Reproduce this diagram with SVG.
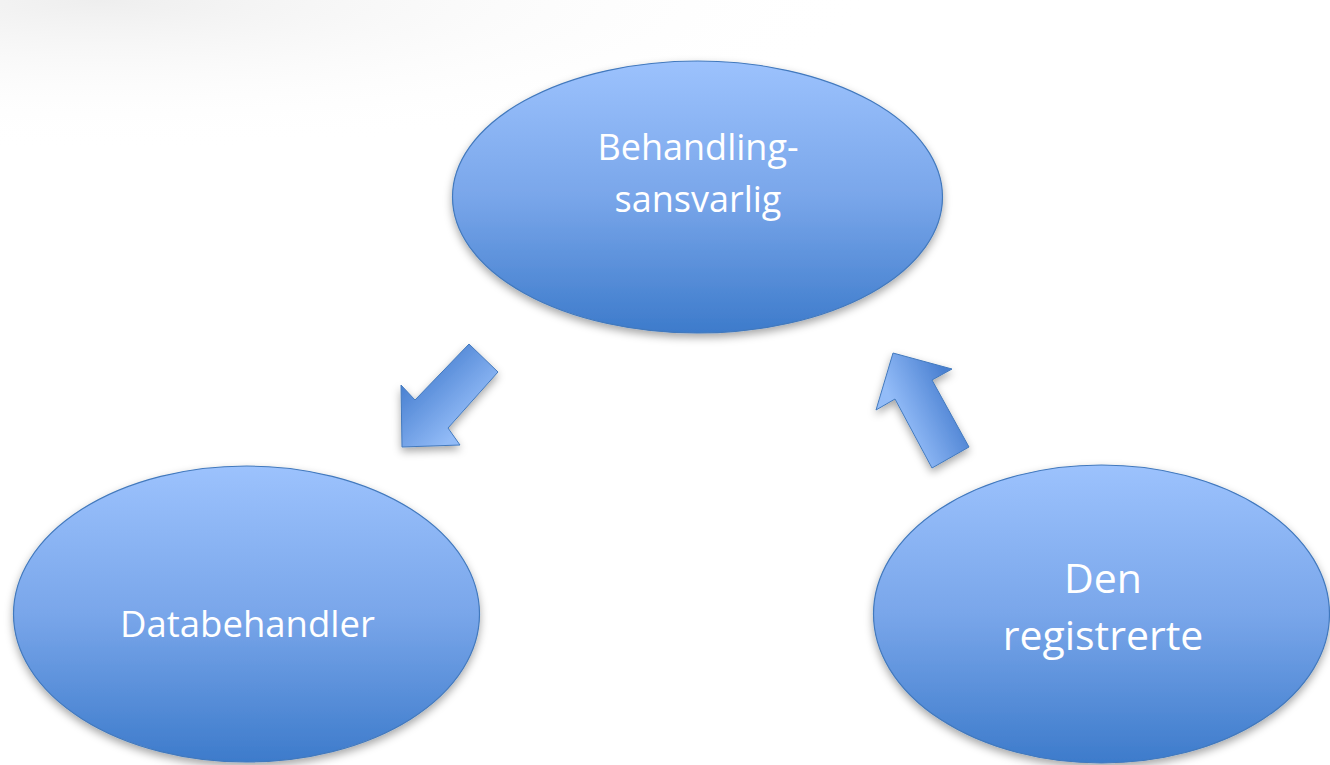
<svg xmlns="http://www.w3.org/2000/svg" width="1330" height="765" viewBox="0 0 1330 765">
  <defs>
    <radialGradient id="bg" gradientUnits="userSpaceOnUse" cx="100" cy="0" r="600" gradientTransform="translate(100 0) scale(1.3 0.25) translate(-100 0)">
      <stop offset="0" stop-color="#eeeeee"/>
      <stop offset="1" stop-color="#ffffff" stop-opacity="0"/>
    </radialGradient>
    <linearGradient id="ell" x1="0" y1="0" x2="0" y2="1">
      <stop offset="0" stop-color="#9cc2fd"/>
      <stop offset="0.5" stop-color="#79a6ea"/>
      <stop offset="1" stop-color="#3d7bcb"/>
    </linearGradient>
    <linearGradient id="arrL" gradientUnits="userSpaceOnUse" x1="420" y1="370" x2="470" y2="420">
      <stop offset="0" stop-color="#4b82d2"/>
      <stop offset="1" stop-color="#92bbf7"/>
    </linearGradient>
    <linearGradient id="arrR" gradientUnits="userSpaceOnUse" x1="900" y1="420" x2="955" y2="395">
      <stop offset="0" stop-color="#93bcf8"/>
      <stop offset="1" stop-color="#4a80d1"/>
    </linearGradient>
    <filter id="sh" x="-20%" y="-20%" width="140%" height="150%">
      <feDropShadow dx="0" dy="4" stdDeviation="4" flood-color="#000" flood-opacity="0.35"/>
    </filter>
  </defs>
  <style>
    .node { fill: url(#ell); stroke: #4279bd; stroke-width: 1.2; filter: url(#sh); }
    .lbl { font-family: "Open Sans", "Noto Sans", "Liberation Sans", sans-serif; fill: #ffffff; text-anchor: middle; }
    .arrow { stroke: #4279bd; stroke-width: 1; stroke-linejoin: miter; filter: url(#sh); }
  </style>
  <rect x="0" y="0" width="1330" height="765" fill="#ffffff"/>
  <rect x="0" y="0" width="1330" height="200" fill="url(#bg)"/>

  <g id="connectors">
    <polygon class="arrow" fill="url(#arrL)" points="469,344 498,372 448,428 460,445 402,447 401,385 415,400"/>
    <polygon class="arrow" fill="url(#arrR)" points="893,353 952,369 932,380 969,447 932,468 895,399 876,410"/>
  </g>

  <g id="node-behandlingsansvarlig">
    <ellipse class="node" cx="697.5" cy="197" rx="245" ry="136"/>
    <text class="lbl" font-size="36" x="698" y="160">Behandling-</text>
    <text class="lbl" font-size="36" x="698" y="212">sansvarlig</text>
  </g>

  <g id="node-databehandler">
    <ellipse class="node" cx="246.5" cy="614" rx="233" ry="148"/>
    <text class="lbl" font-size="36.5" x="247.5" y="637">Databehandler</text>
  </g>

  <g id="node-den-registrerte">
    <ellipse class="node" cx="1101.5" cy="614" rx="228" ry="149"/>
    <text class="lbl" font-size="41" x="1103" y="593">Den</text>
    <text class="lbl" font-size="41" x="1103" y="650">registrerte</text>
  </g>
</svg>
